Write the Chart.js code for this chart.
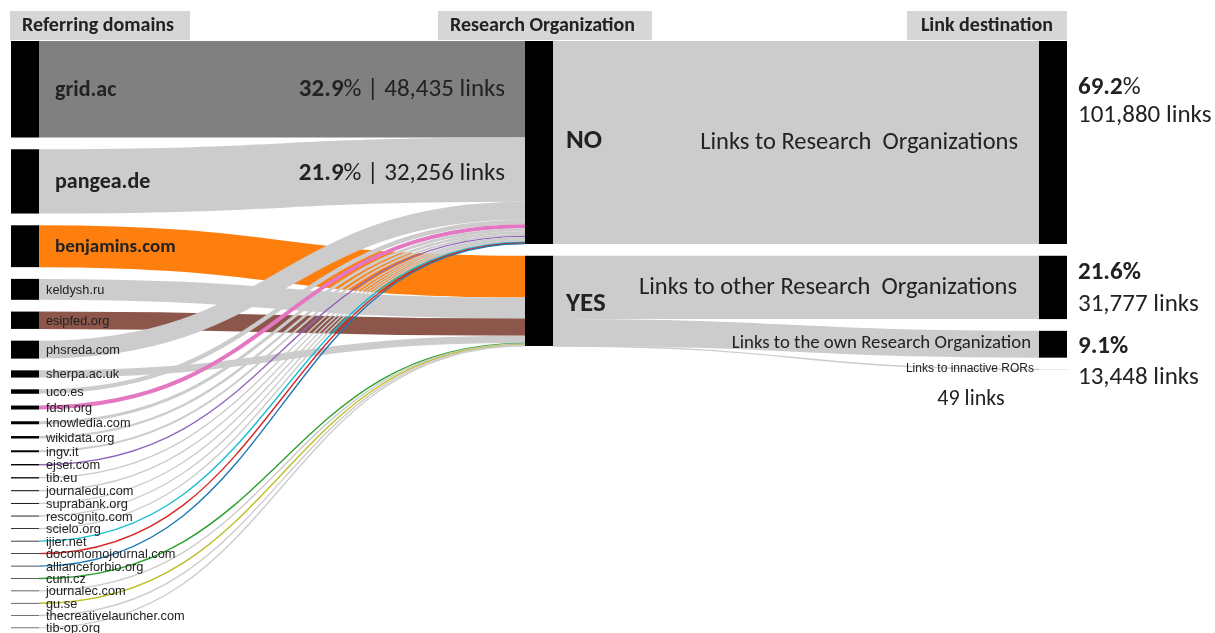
<!DOCTYPE html>
<html>
<head>
<meta charset="utf-8">
<script src="https://cdn.jsdelivr.net/npm/chart.js@4"></script>
<style>
  body { margin: 0; background: #fff; }
</style>
</head>
<body>
<canvas id="sankey" width="1215" height="633"></canvas>
<script>
// referring domains -> does the page belong to a research organization?
const domains = ['grid.ac', 'pangea.de', 'benjamins.com', 'keldysh.ru', 'esipfed.org', 'phsreda.com', 'sherpa.ac.uk',
  'uco.es', 'fdsn.org', 'knowledia.com', 'wikidata.org', 'ingv.it', 'ejsei.com', 'tib.eu', 'journaledu.com',
  'suprabank.org', 'rescognito.com', 'scielo.org', 'ijier.net', 'docomomojournal.com', 'allianceforbio.org',
  'cuni.cz', 'journalec.com', 'gu.se', 'thecreativelauncher.com', 'tib-op.org'];
const domainLinks = [48435, 32256, 21000, 10500, 8700, 9000, 3614, 2239, 2000, 1500, 1250, 1000, 700, 650, 500,
  450, 420, 400, 380, 360, 340, 320, 300, 290, 280, 270];
const domainTarget = ['NO', 'NO', 'YES', 'YES', 'YES', 'NO', 'YES', 'NO', 'NO', 'NO', 'NO', 'NO', 'NO', 'NO', 'NO',
  'NO', 'NO', 'NO', 'NO', 'NO', 'NO', 'YES', 'YES', 'YES', 'YES', 'YES'];

// research organization -> link destination
const orgs = ['NO', 'YES'];
const destinations = ['Links to Research  Organizations', 'Links to other Research  Organizations',
  'Links to the own Research Organization', 'Links to innactive RORs'];
const destinationLinks = [101880, 31777, 13448, 49];
const destinationSource = ['NO', 'YES', 'YES', 'YES'];

const headers = ['Referring domains', 'Research Organization', 'Link destination'];

// highlighted flows, everything else is light grey
const flowColours = {
  'grid.ac': '#808080', 'benjamins.com': '#ff7f0e', 'esipfed.org': '#8c564b', 'fdsn.org': '#e377c2',
  'ejsei.com': '#9467bd', 'ijier.net': '#17becf', 'docomomojournal.com': '#d62728',
  'allianceforbio.org': '#1f77b4', 'cuni.cz': '#2ca02c', 'gu.se': '#bcbd22'
};

const PAD = 5900;          // gap between nodes, in links
const NODE_W = 28 / 1056;  // node width as a share of the x range
const CAL = '"Carlito", "Lato", sans-serif';
const ARIAL = '"Liberation Sans", Arial, sans-serif';

const sum = a => a.reduce((s, v) => s + v, 0);
const total = sum(domainLinks);
const pct = v => (100 * v / total).toFixed(1);
const fmt = v => v.toLocaleString('en-US');

function stack(values) {
  let acc = 0;
  return values.map(v => {
    const n = { y0: acc, y1: acc + v, ptr: acc };
    acc += v + PAD;
    return n;
  });
}
const orgLinks = orgs.map(o => sum(domainLinks.filter((v, i) => domainTarget[i] === o)));
const leftNodes = stack(domainLinks);
const midNodes = stack(orgLinks);
const rightNodes = stack(destinationLinks);

const leftFlows = domains.map((d, i) => {
  const m = midNodes[orgs.indexOf(domainTarget[i])];
  const f = { s0: leftNodes[i].y0, s1: leftNodes[i].y1, t0: m.ptr, t1: m.ptr + domainLinks[i],
    colour: flowColours[d] || '#cccccc' };
  m.ptr += domainLinks[i];
  return f;
});
midNodes.forEach(m => { m.ptr = m.y0; });
const rightFlows = destinations.map((d, j) => {
  const m = midNodes[orgs.indexOf(destinationSource[j])];
  const f = { s0: m.ptr, s1: m.ptr + destinationLinks[j], t0: rightNodes[j].y0, t1: rightNodes[j].y1, colour: '#cccccc' };
  m.ptr += destinationLinks[j];
  return f;
});

const colX = c => c * (1 - NODE_W) / 2;

function text(ctx, str, px, py, font, align, colour) {
  ctx.font = font;
  ctx.textAlign = align || 'left';
  ctx.textBaseline = 'middle';
  ctx.fillStyle = colour || '#222';
  ctx.fillText(str, px, py);
}
function runs(ctx, parts, px, py, align) {
  let w = 0;
  parts.forEach(([s, f]) => { ctx.font = f; w += ctx.measureText(s).width; });
  let cx = align === 'right' ? px - w : px;
  ctx.textAlign = 'left';
  ctx.textBaseline = 'middle';
  ctx.fillStyle = '#222';
  parts.forEach(([s, f]) => { ctx.font = f; ctx.fillText(s, cx, py); cx += ctx.measureText(s).width; });
}

const sankeyPlugin = {
  id: 'sankey',
  afterDraw(chart) {
    const { ctx, scales: { x, y } } = chart;
    const px = v => x.getPixelForValue(v);
    const py = v => y.getPixelForValue(v);

    function flow(f, c) {
      const xa = px(colX(c) + NODE_W), xb = px(colX(c + 1));
      const ya = (py(f.s0) + py(f.s1)) / 2, yb = (py(f.t0) + py(f.t1)) / 2, xm = (xa + xb) / 2;
      ctx.beginPath();
      ctx.moveTo(xa, ya);
      ctx.bezierCurveTo(xm, ya, xm, yb, xb, yb);
      ctx.lineWidth = Math.max(1.4, py(f.s1) - py(f.s0));
      ctx.strokeStyle = f.colour;
      ctx.stroke();
    }
    function nodes(list, c) {
      ctx.fillStyle = '#000';
      list.forEach(n => {
        const h = py(n.y1) - py(n.y0);
        ctx.fillRect(px(colX(c)), py(n.y0), px(colX(c) + NODE_W) - px(colX(c)), h);
      });
    }

    ctx.save();
    ctx.lineCap = 'butt';
    leftFlows.forEach(f => flow(f, 0));
    rightFlows.forEach(f => flow(f, 1));
    nodes(leftNodes, 0);
    nodes(midNodes, 1);
    nodes(rightNodes, 2);

    // column headers
    ctx.fillStyle = '#d6d6d6';
    ctx.fillRect(10, 11, 180, 29);
    ctx.fillRect(438, 11, 214, 29);
    ctx.fillRect(907, 11, 160, 29);
    text(ctx, headers[0], 22, 26, 'bold 20px ' + CAL);
    text(ctx, headers[1], 450, 26, 'bold 20px ' + CAL);
    text(ctx, headers[2], 1053, 26, 'bold 20px ' + CAL, 'right');

    // domain labels
    const lx = px(colX(0) + NODE_W);
    domains.forEach((d, i) => {
      const n = leftNodes[i];
      const cy = (py(n.y0) + py(n.y1)) / 2;
      const share = domainLinks[i] / total;
      if (share > 0.1) text(ctx, d, lx + 16, cy + 1, 'bold ' + (share > 0.2 ? 22 : 19) + 'px ' + CAL);
      else text(ctx, d, lx + 7, cy + 1, '12.8px ' + ARIAL);
      if (share > 0.2) {
        runs(ctx, [[pct(domainLinks[i]), 'bold 25px ' + CAL], ['% | ' + fmt(domainLinks[i]) + ' links', '25px ' + CAL]],
          px(colX(1)) - 20, i === 0 ? cy : cy - 8, 'right');
      }
    });

    // organization labels
    orgs.forEach((o, k) => {
      const n = midNodes[k];
      text(ctx, o, px(colX(1) + NODE_W) + 13, (py(n.y0) + py(n.y1)) / 2 + (k === 0 ? -1 : 3), 'bold 27px ' + CAL);
    });

    // destination labels
    const rx = px(colX(2) + NODE_W) + 11;
    const flowRight = px(colX(2));
    const labelTop = [47, 17, 16];
    const lineGap = [28, 32, 31];
    destinations.forEach((d, j) => {
      const n = rightNodes[j];
      const top = py(n.y0);
      if (j < 3) {
        const p = pct(destinationLinks[j]);
        text(ctx, p, rx, top + labelTop[j], 'bold 25px ' + CAL);
        ctx.font = 'bold 25px ' + CAL;
        const w = ctx.measureText(p).width;
        text(ctx, '%', rx + w, top + labelTop[j], (j === 0 ? '' : 'bold ') + '25px ' + CAL);
        text(ctx, fmt(destinationLinks[j]) + ' links', rx, top + labelTop[j] + lineGap[j], '25px ' + CAL);
      }
    });
    text(ctx, destinations[0], flowRight - 21, (py(rightNodes[0].y0) + py(rightNodes[0].y1)) / 2, '24.5px ' + CAL, 'right');
    text(ctx, destinations[1], flowRight - 22, py(rightNodes[1].y0) + 32, '24.5px ' + CAL, 'right');
    text(ctx, destinations[2], flowRight - 8, py(rightNodes[2].y0) + 12, '18.8px ' + CAL, 'right');
    text(ctx, destinations[3], flowRight - 5, py(rightNodes[3].y0) - 1, '12px ' + ARIAL, 'right');
    text(ctx, fmt(destinationLinks[3]) + ' links', flowRight - 68, py(rightNodes[3].y0) + 30, '22px ' + CAL, 'center');
    ctx.restore();
  }
};

new Chart(document.getElementById('sankey'), {
  type: 'scatter',
  data: { datasets: [] },
  options: {
    responsive: false,
    animation: false,
    layout: { padding: { left: 11, right: 148, top: 41, bottom: 0 } },
    plugins: { legend: { display: false }, tooltip: { enabled: false } },
    scales: {
      x: { type: 'linear', min: 0, max: 1, display: false },
      y: { type: 'linear', min: 0, max: 297100, reverse: true, display: false }
    }
  },
  plugins: [sankeyPlugin]
});
</script>
</body>
</html>
